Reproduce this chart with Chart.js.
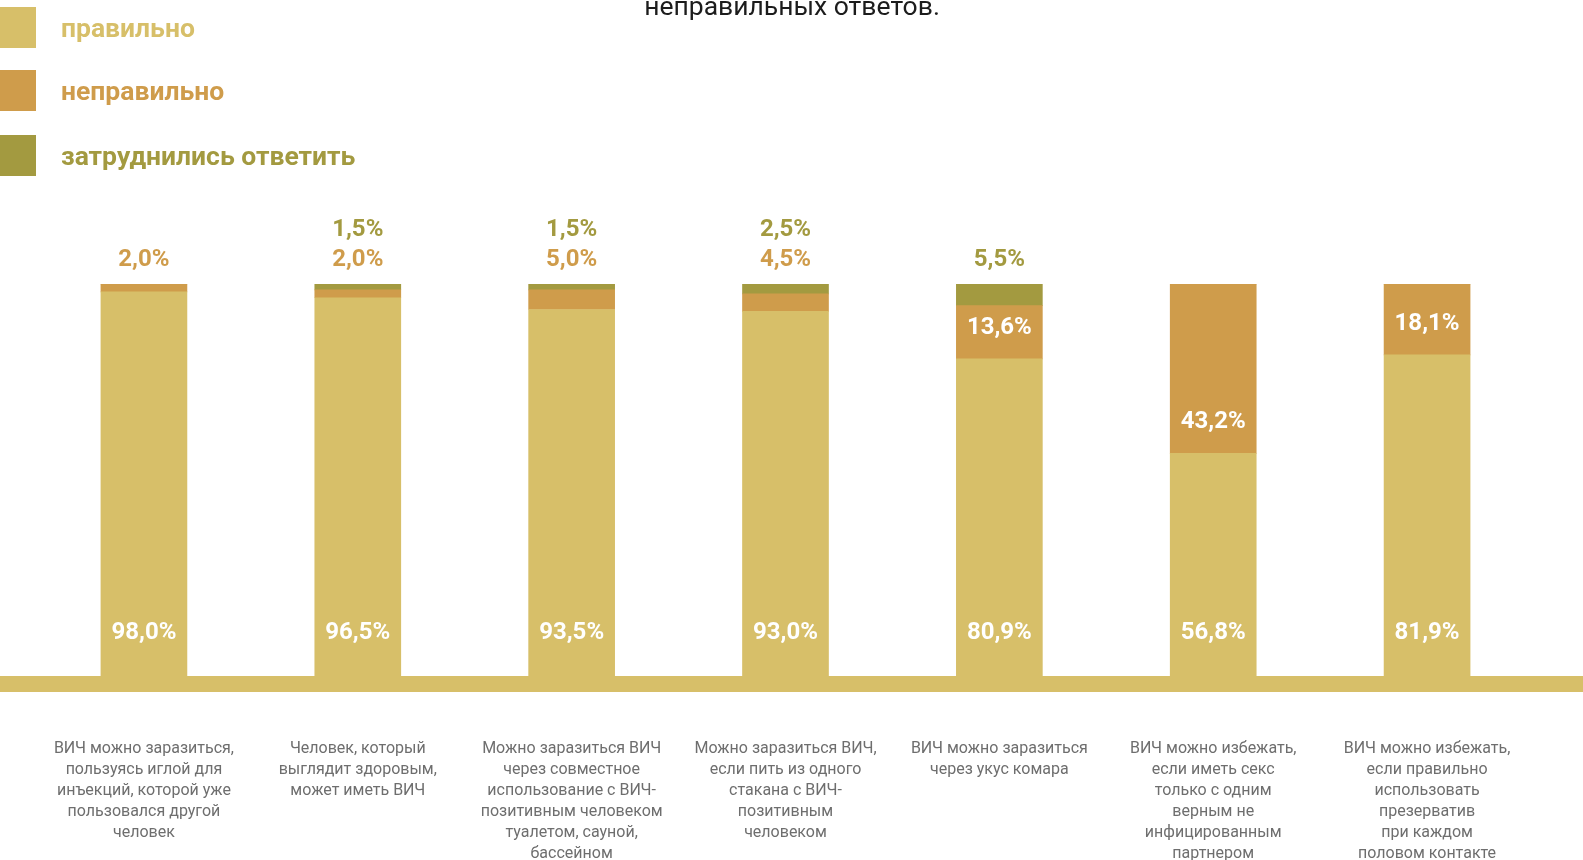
<!DOCTYPE html>
<html lang="ru">
<head>
<meta charset="utf-8">
<title>Знания о ВИЧ</title>
<script src="https://cdn.jsdelivr.net/npm/chart.js@4/dist/chart.umd.min.js"></script>
<style>
  html, body { margin: 0; padding: 0; background: #ffffff; overflow: hidden; }
  #wrap { position: relative; width: 1583px; height: 864px; }
</style>
</head>
<body>
<div id="wrap"><canvas id="chart"></canvas></div>
<script>
// Statements (multi-line category labels)
const categories = [
  ['ВИЧ можно заразиться,', 'пользуясь иглой для', 'инъекций, которой уже', 'пользовался другой', 'человек'],
  ['Человек, который', 'выглядит здоровым,', 'может иметь ВИЧ'],
  ['Можно заразиться ВИЧ', 'через совместное', 'использование с ВИЧ-', 'позитивным человеком', 'туалетом, сауной,', 'бассейном'],
  ['Можно заразиться ВИЧ,', 'если пить из одного', 'стакана с ВИЧ-', 'позитивным', 'человеком'],
  ['ВИЧ можно заразиться', 'через укус комара'],
  ['ВИЧ можно избежать,', 'если иметь секс', 'только с одним', 'верным не', 'инфицированным', 'партнером'],
  ['ВИЧ можно избежать,', 'если правильно', 'использовать', 'презерватив', 'при каждом', 'половом контакте']
];

// Shares of answers, %
const correct = [98.0, 96.5, 93.5, 93.0, 80.9, 56.8, 81.9];
const wrong   = [2.0, 2.0, 5.0, 4.5, 13.6, 43.2, 18.1];
const unsure  = [0, 1.5, 1.5, 2.5, 5.5, 0, 0];

const seriesNames = ['правильно', 'неправильно', 'затруднились ответить'];
const caption = 'неправильных ответов.';

const COLORS = ['#d7bf69', '#cf9c4b', '#a39a40'];
const FONT = 'Roboto, "Noto Sans", "DejaVu Sans", sans-serif';

const fmt = v => v.toFixed(1).replace('.', ',') + '%';

// Thick base strip under the bars, spanning the whole canvas width
const baseStrip = {
  id: 'baseStrip',
  beforeDatasetsDraw(chart) {
    const { ctx, chartArea, width } = chart;
    ctx.save();
    ctx.fillStyle = COLORS[0];
    ctx.fillRect(0, chartArea.bottom, width, 16);
    ctx.restore();
  }
};

// Caption fragment and the vertical legend in the top-left corner
const header = {
  id: 'header',
  afterDraw(chart) {
    const { ctx } = chart;
    ctx.save();
    ctx.fillStyle = '#1c1c1c';
    ctx.font = '26.5px ' + FONT;
    ctx.textAlign = 'center';
    ctx.textBaseline = 'alphabetic';
    ctx.fillText(caption, 792, 15);

    const boxTops = [7, 70, 135];
    const baselines = [37, 100, 165];
    chart.data.datasets.forEach((ds, i) => {
      ctx.fillStyle = ds.backgroundColor;
      ctx.fillRect(0, boxTops[i], 36, 41);
      ctx.font = 'bold 26.5px ' + FONT;
      ctx.textAlign = 'left';
      ctx.fillText(ds.label, 61, baselines[i]);
    });
    ctx.restore();
  }
};

// Percent labels: correct share near the bar foot, large wrong share inside
// its segment, small shares stacked above the bar
const valueLabels = {
  id: 'valueLabels',
  afterDatasetsDraw(chart) {
    const { ctx } = chart;
    const metas = chart.data.datasets.map((_, i) => chart.getDatasetMeta(i));
    ctx.save();
    ctx.font = 'bold 24px ' + FONT;
    ctx.textAlign = 'center';
    ctx.textBaseline = 'middle';
    categories.forEach((_, j) => {
      const barC = metas[0].data[j];
      const barW = metas[1].data[j];
      const x = barC.x;
      ctx.fillStyle = '#ffffff';
      ctx.fillText(fmt(correct[j]), x, barC.base - 43);

      const above = [];
      if (wrong[j] >= 10) {
        ctx.fillStyle = '#ffffff';
        ctx.fillText(fmt(wrong[j]), x, barW.base - 31);
      } else {
        above.push({ v: wrong[j], c: COLORS[1] });
      }
      if (unsure[j] > 0) above.push({ v: unsure[j], c: COLORS[2] });

      const top = Math.min(...metas.map(m => m.data[j].y));
      above.forEach((a, k) => {
        ctx.fillStyle = a.c;
        ctx.fillText(fmt(a.v), x, top - 24 - k * 30);
      });
    });
    ctx.restore();
  }
};

new Chart(document.getElementById('chart'), {
  type: 'bar',
  data: {
    labels: categories,
    datasets: [
      { label: seriesNames[0], data: correct, backgroundColor: COLORS[0] },
      { label: seriesNames[1], data: wrong, backgroundColor: COLORS[1] },
      { label: seriesNames[2], data: unsure, backgroundColor: COLORS[2] }
    ]
  },
  options: {
    responsive: true,
    maintainAspectRatio: false,
    animation: false,
    events: [],
    layout: { padding: { top: 284, left: 37, right: 49, bottom: 1 } },
    datasets: { bar: { barThickness: 86, borderWidth: 0 } },
    plugins: {
      legend: { display: false },
      tooltip: { enabled: false },
      title: { display: false }
    },
    scales: {
      x: {
        stacked: true,
        offset: true,
        grid: { display: false },
        border: { display: false },
        ticks: {
          autoSkip: false,
          maxRotation: 0,
          padding: 54,
          color: '#6e6e6e',
          font: { family: FONT, size: 16, lineHeight: 1.3125 }
        },
        afterFit(scale) {
          scale.paddingLeft = 0;
          scale.paddingRight = 0;
          scale.height = 187;
        }
      },
      y: {
        stacked: true,
        display: false,
        min: 0,
        max: 100
      }
    }
  },
  plugins: [baseStrip, valueLabels, header]
});
</script>
</body>
</html>
